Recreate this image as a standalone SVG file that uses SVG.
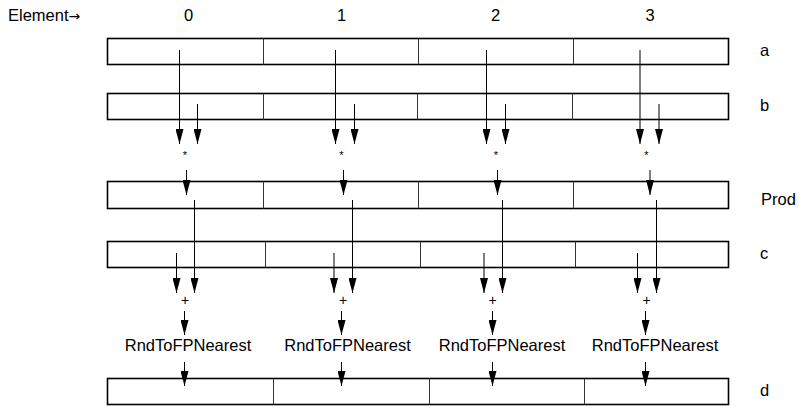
<svg xmlns="http://www.w3.org/2000/svg" width="799" height="406" viewBox="0 0 799 406">
<style>
text{font-family:"Liberation Sans",Arial,sans-serif;fill:#000}
.lbl{font-size:16.5px}
.mid{text-anchor:middle}
.op{font-size:11px;text-anchor:middle}
.plus{font-size:14px;text-anchor:middle}
.box{fill:#fff;stroke:#000;stroke-width:1.6}
.div{stroke:#333;stroke-width:1}
.arr{stroke:#000;stroke-width:1;fill:none;marker-end:url(#ah)}
</style>
<defs>
<marker id="ah" markerUnits="userSpaceOnUse" markerWidth="15" markerHeight="8" refX="15" refY="4" orient="auto" viewBox="0 0 15 8">
<path d="M0,0 L15,4 L0,8 z" fill="#000"/>
</marker>
</defs>
<g id="header">
<text class="lbl" x="8" y="21">Element<tspan font-family="DejaVu Sans, sans-serif" font-size="14px">→</tspan></text>
<text class="lbl mid" x="188.5" y="21">0</text>
<text class="lbl mid" x="341.5" y="21">1</text>
<text class="lbl mid" x="495.5" y="21">2</text>
<text class="lbl mid" x="650" y="21">3</text>
</g>
<g id="row-a">
<rect class="box" x="107.5" y="38.5" width="621" height="26"/>
<line class="div" x1="263.5" y1="38.5" x2="263.5" y2="64.5"/>
<line class="div" x1="418.5" y1="38.5" x2="418.5" y2="64.5"/>
<line class="div" x1="573.5" y1="38.5" x2="573.5" y2="64.5"/>
<text class="lbl" x="760" y="56">a</text>
</g>
<g id="row-b">
<rect class="box" x="107.5" y="93.5" width="621" height="26"/>
<line class="div" x1="263.5" y1="93.5" x2="263.5" y2="119.5"/>
<line class="div" x1="417.5" y1="93.5" x2="417.5" y2="119.5"/>
<line class="div" x1="572.5" y1="93.5" x2="572.5" y2="119.5"/>
<text class="lbl" x="760" y="111">b</text>
</g>
<g id="row-prod">
<rect class="box" x="107.5" y="181.5" width="621" height="27"/>
<line class="div" x1="263.5" y1="181.5" x2="263.5" y2="208.5"/>
<line class="div" x1="418.5" y1="181.5" x2="418.5" y2="208.5"/>
<line class="div" x1="573.5" y1="181.5" x2="573.5" y2="208.5"/>
<text class="lbl" x="761" y="205">Prod</text>
</g>
<g id="row-c">
<rect class="box" x="107.5" y="241.5" width="621" height="26"/>
<line class="div" x1="265.5" y1="241.5" x2="265.5" y2="267.5"/>
<line class="div" x1="420.5" y1="241.5" x2="420.5" y2="267.5"/>
<line class="div" x1="575.5" y1="241.5" x2="575.5" y2="267.5"/>
<text class="lbl" x="760" y="259">c</text>
</g>
<g id="row-d">
<rect class="box" x="107.5" y="378.5" width="621" height="26"/>
<line class="div" x1="273.5" y1="378.5" x2="273.5" y2="404.5"/>
<line class="div" x1="429.5" y1="378.5" x2="429.5" y2="404.5"/>
<line class="div" x1="584.5" y1="378.5" x2="584.5" y2="404.5"/>
<text class="lbl" x="760" y="396">d</text>
</g>
<g id="ops">
<text class="op" x="185" y="159">*</text>
<text class="op" x="341.5" y="159">*</text>
<text class="op" x="496" y="159">*</text>
<text class="op" x="646.5" y="159">*</text>
<text class="plus" x="185" y="305">+</text>
<text class="plus" x="343" y="305">+</text>
<text class="plus" x="492.5" y="305">+</text>
<text class="plus" x="646.5" y="305">+</text>
<text class="lbl mid" x="188" y="351">RndToFPNearest</text>
<text class="lbl mid" x="347.5" y="351">RndToFPNearest</text>
<text class="lbl mid" x="502" y="351">RndToFPNearest</text>
<text class="lbl mid" x="655" y="351">RndToFPNearest</text>
</g>
<g id="connectors">
<line class="arr" x1="179.5" y1="50" x2="179.5" y2="144"/>
<line class="arr" x1="197.5" y1="104" x2="197.5" y2="144"/>
<line class="arr" x1="186.5" y1="170" x2="186.5" y2="195"/>
<line class="arr" x1="194.5" y1="200" x2="194.5" y2="293"/>
<line class="arr" x1="176.5" y1="253" x2="176.5" y2="293"/>
<line class="arr" x1="184.5" y1="311" x2="184.5" y2="335"/>
<line class="arr" x1="184.5" y1="362" x2="184.5" y2="386"/>

<line class="arr" x1="335.5" y1="50" x2="335.5" y2="144"/>
<line class="arr" x1="354.5" y1="104" x2="354.5" y2="144"/>
<line class="arr" x1="343.5" y1="170" x2="343.5" y2="195"/>
<line class="arr" x1="352.5" y1="200" x2="352.5" y2="293"/>
<line class="arr" x1="334" y1="253" x2="334" y2="293"/>
<line class="arr" x1="341.5" y1="311" x2="341.5" y2="335"/>
<line class="arr" x1="341.5" y1="362" x2="341.5" y2="386"/>

<line class="arr" x1="486.5" y1="50" x2="486.5" y2="144"/>
<line class="arr" x1="505.5" y1="104" x2="505.5" y2="144"/>
<line class="arr" x1="497.5" y1="170" x2="497.5" y2="195"/>
<line class="arr" x1="502.5" y1="200" x2="502.5" y2="293"/>
<line class="arr" x1="484" y1="253" x2="484" y2="293"/>
<line class="arr" x1="492.5" y1="311" x2="492.5" y2="335"/>
<line class="arr" x1="492.5" y1="362" x2="492.5" y2="386"/>

<line class="arr" x1="640" y1="50" x2="640" y2="144"/>
<line class="arr" x1="659" y1="104" x2="659" y2="144"/>
<line class="arr" x1="650" y1="170" x2="650" y2="195"/>
<line class="arr" x1="656.5" y1="200" x2="656.5" y2="293"/>
<line class="arr" x1="637.5" y1="253" x2="637.5" y2="293"/>
<line class="arr" x1="645.5" y1="311" x2="645.5" y2="335"/>
<line class="arr" x1="645.5" y1="362" x2="645.5" y2="386"/>
</g>
</svg>
